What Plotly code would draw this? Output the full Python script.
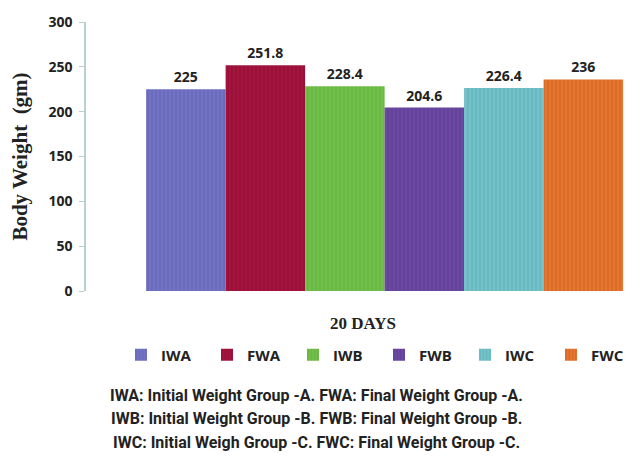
import plotly.graph_objects as go

groups = ["IWA", "FWA", "IWB", "FWB", "IWC", "FWC"]
weights = [225, 251.8, 228.4, 204.6, 226.4, 236]
period = ["20 DAYS"]
colors = ["#7373c4", "#a3143f", "#72c04c", "#6b49a1", "#72c2c9", "#e4762f"]
stripes = ["#5c5cae", "#85092c", "#5aa636", "#573690", "#5aa8b0", "#c8561a"]
yticks = [0, 50, 100, 150, 200, 250, 300]
notes = [
    "IWA: Initial Weight Group -A. FWA: Final Weight Group -A.",
    "IWB: Initial Weight Group -B. FWB: Final Weight Group -B.",
    "IWC: Initial Weigh Group -C. FWC: Final Weight Group -C.",
]

# page body has an 8px margin, so the figure is sized to fit 640x460 viewport
W, H = 632, 452
L, T, B = 78, 14, 169
PW, PH = W - L, H - T - B  # plot area size


def px(xp):  # screenshot pixel -> paper x
    return (xp - 8 - L) / PW


def py(yp):  # screenshot pixel -> paper y
    return (H - B - (yp - 8)) / PH


fig = go.Figure()
for g, v, c, s in zip(groups, weights, colors, stripes):
    fig.add_trace(go.Bar(
        x=period, y=[v], name=g,
        marker=dict(color=c, line=dict(width=0),
                    pattern=dict(shape="|", fgcolor=s, bgcolor=c, size=4, solidity=0.35)),
        text=[f"{v:g}"], textposition="outside", cliponaxis=False,
        textfont=dict(family="Open Sans", size=14, color="#222", weight="bold"),
    ))

fig.update_layout(
    width=W, height=H,
    margin=dict(l=L, r=0, t=T, b=B, autoexpand=False),
    paper_bgcolor="white", plot_bgcolor="white",
    barmode="group", bargap=0.139, bargroupgap=0,
    showlegend=True,
    legend=dict(orientation="h", x=px(121), xanchor="left", y=py(355), yanchor="middle",
                entrywidth=41, entrywidthmode="pixels", itemwidth=30,
                font=dict(family="Open Sans", size=15, color="#222", weight="bold"),
                traceorder="normal"),
    font=dict(family="Open Sans", color="#222"),
)
fig.update_xaxes(range=[-0.539, 0.461], showticklabels=False, showline=False,
                 showgrid=False, zeroline=False, ticks="", automargin=False,
                 title=dict(text="20 DAYS", standoff=26,
                            font=dict(family="Liberation Serif", size=17, color="#222", weight="bold")))
fig.update_yaxes(range=[0, 300], tickvals=yticks, showgrid=False, zeroline=False, automargin=False,
                 showline=True, linecolor="#b8d0d0", linewidth=1.5,
                 ticks="outside", ticklen=5, tickcolor="#b8d0d0", ticklabelstandoff=4,
                 tickfont=dict(family="Open Sans", size=14, color="#222", weight="bold"),
                 title=dict(text="Body Weight&nbsp;&nbsp;(gm)", standoff=17,
                            font=dict(family="Liberation Serif", size=21, color="#222", weight="bold")))

for i, t in enumerate(notes):
    fig.add_annotation(text=t, xref="paper", yref="paper", x=px(316), y=py(395 + 23.5 * i),
                       xanchor="center", yanchor="middle", showarrow=False,
                       font=dict(family="Roboto", size=16, color="#222", weight="bold"))

fig.write_html("out.html")
